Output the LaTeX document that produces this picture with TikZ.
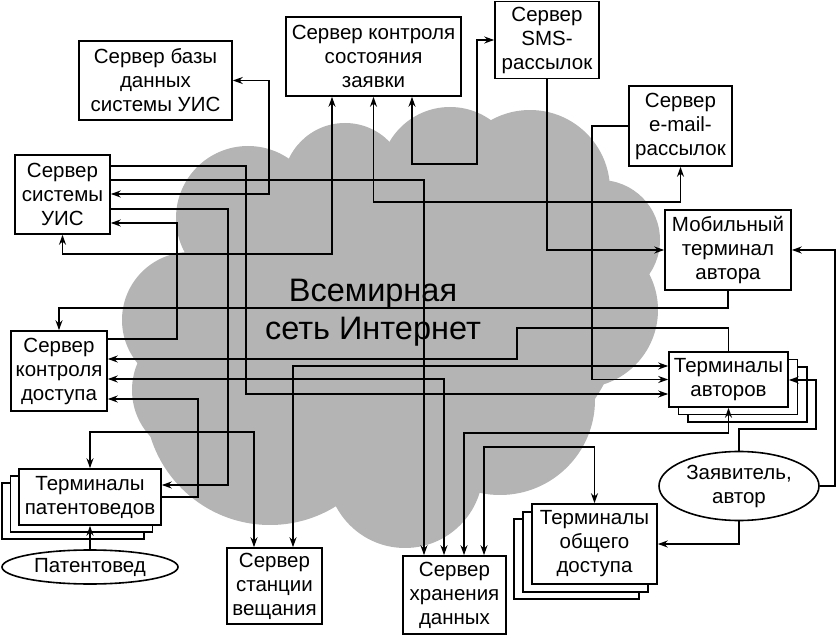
\documentclass[tikz,border=0pt]{standalone}
\usepackage{fontspec}
\setmainfont{Liberation Sans}
\usetikzlibrary{arrows.meta,shapes.geometric}
\definecolor{cloudgray}{RGB}{180,180,180}
\tikzset{
  box/.style={draw, line width=1.6pt, fill=white, align=center, inner sep=0pt,
    font=\fontsize{20.5}{24}\selectfont},
  ell/.style={ellipse, draw, line width=1.6pt, fill=white, align=center, inner sep=0pt,
    font=\fontsize{20.5}{24}\selectfont},
  ln/.style={line width=1.9pt},
  tln/.style={line width=1.3pt},
  arr/.style={-{Stealth[length=10pt,width=7pt]}},
  darr/.style={{Stealth[length=10pt,width=7pt]}-{Stealth[length=10pt,width=7pt]}},
}
\begin{document}
\begin{tikzpicture}[x=1pt,y=-1pt]
\useasboundingbox (0,0) rectangle (836,636);
% cloud
\begin{scope}
\fill[cloudgray] (248,218) circle (72pt);
\fill[cloudgray] (190,320) circle (68pt);
\fill[cloudgray] (200,390) circle (68pt);
\fill[cloudgray] (270,400) circle (125pt);
\fill[cloudgray] (405,470) circle (78pt);
\fill[cloudgray] (500,400) circle (95pt);
\fill[cloudgray] (580,310) circle (78pt);
\fill[cloudgray] (600,240) circle (60pt);
\fill[cloudgray] (530,190) circle (80pt);
\fill[cloudgray] (450,177) circle (70pt);
\fill[cloudgray] (345,185) circle (62pt);
\fill[cloudgray] (400,320) ellipse [x radius=220pt, y radius=170pt];
\end{scope}
\node[align=center, font=\fontsize{32.5}{38}\selectfont] (net) at (373,313) {Всемирная\\сеть Интернет};
% nodes
\node[box, minimum width=153pt, minimum height=79pt] (db) at (155.5,80.5) {Сервер базы\\данных\\системы УИС};
\node[box, minimum width=175pt, minimum height=79pt] (cs) at (373.5,56.5) {Сервер контроля\\состояния\\заявки};
\node[box, minimum width=104pt, minimum height=77pt] (sms) at (547,40) {Сервер\\SMS-\\рассылок};
\node[box, minimum width=103pt, minimum height=80pt] (em) at (680.5,126) {Сервер\\e-mail-\\рассылок};
\node[box, minimum width=126pt, minimum height=80pt] (mob) at (728,250) {Мобильный\\терминал\\автора};
\node[box, minimum width=95pt, minimum height=79pt] (uis) at (62.5,194.5) {Сервер\\системы\\УИС};
\node[box, minimum width=96pt, minimum height=80pt] (kd) at (59,371) {Сервер\\контроля\\доступа};
\node[box, minimum width=119pt, minimum height=55pt] (ta3) at (747.5,394.5) {};
\node[box, minimum width=119pt, minimum height=55pt] (ta2) at (738,387) {};
\node[box, minimum width=119pt, minimum height=55pt] (ta) at (728.5,379.5) {Терминалы\\авторов};
\node[box, minimum width=142pt, minimum height=56pt] (tp3) at (73,511) {};
\node[box, minimum width=142pt, minimum height=56pt] (tp2) at (81.5,504) {};
\node[box, minimum width=142pt, minimum height=56pt] (tp) at (90,497) {Терминалы\\патентоведов};
\node[box, minimum width=95pt, minimum height=76pt] (sv) at (274.5,586) {Сервер\\станции\\вещания};
\node[box, minimum width=103pt, minimum height=78pt] (st) at (454.5,595) {Сервер\\хранения\\данных};
\node[box, minimum width=125pt, minimum height=80pt] (od3) at (576.5,559) {};
\node[box, minimum width=125pt, minimum height=80pt] (od2) at (585.5,552) {};
\node[box, minimum width=125pt, minimum height=80pt] (od) at (594.5,544) {Терминалы\\общего\\доступа};
\node[ell, minimum width=176pt, minimum height=34pt] (pt) at (90,567) {Патентовед};
\node[ell, minimum width=160pt, minimum height=69pt] (zv) at (739,486) {Заявитель,\\автор};
% connectors
\draw[ln,darr] (db.east) -| (269,194) -- (uis.east |- 0,194);
\draw[ln,darr] (uis.south) |- (332,254) -- (332,0 |- cs.south);
\draw[ln,darr] (412,0 |- cs.south) |- (477,164) |- (sms.west);
\draw[ln,darr] (cs.south) -- (cs.south |- 0,202) -| (em.south);
\draw[ln,arr] (sms.south) |- (mob.west);
\draw[ln,arr] (em.west) -| (592,379.5) -- (ta.west);
\draw[ln,arr] (mob.south) |- (59,308) -- (kd.north);
\draw[tln,arr] (ta.north) |- (517,328) |- (kd.east |- 0,359);
\draw[tln,arr] (kd.east |- 0,339) -| (177,223) -- (uis.east |- 0,223);
\draw[tln,arr] (uis.east |- 0,209) -| (228,485) -- (tp.east |- 0,485);
\draw[tln,arr] (tp.east) -| (198,399) -- (kd.east |- 0,399);
\draw[tln,arr] (uis.east |- 0,180) -| (424,0 |- st.north);
\draw[tln,arr] (uis.east |- 0,166) -| (246,394) -- (ta.west |- 0,394);
\draw[ln,darr] (293,0 |- sv.north) |- (ta.west |- 0,366);
\draw[ln,darr] (tp.north) |- (254,432) -- (254,0 |- sv.north);
\draw[ln,darr] (kd.east |- 0,379) -| (444,0 |- st.north);
\draw[ln,darr] (464,0 |- st.north) |- (728.5,433) -- (ta.south);
\draw[ln,darr] (484,0 |- st.north) |- (od.north |- 0,447) -- (od.north);
\draw[ln,arr] (zv.north) |- (816,429) |- (ta.east |- 0,380);
\draw[ln,arr] (zv.east) -| (835,250) -- (mob.east);
\draw[ln,arr] (zv.south) |- (od.east);
\draw[ln,arr] (pt.north) -- (tp.south);
\end{tikzpicture}
\end{document}
